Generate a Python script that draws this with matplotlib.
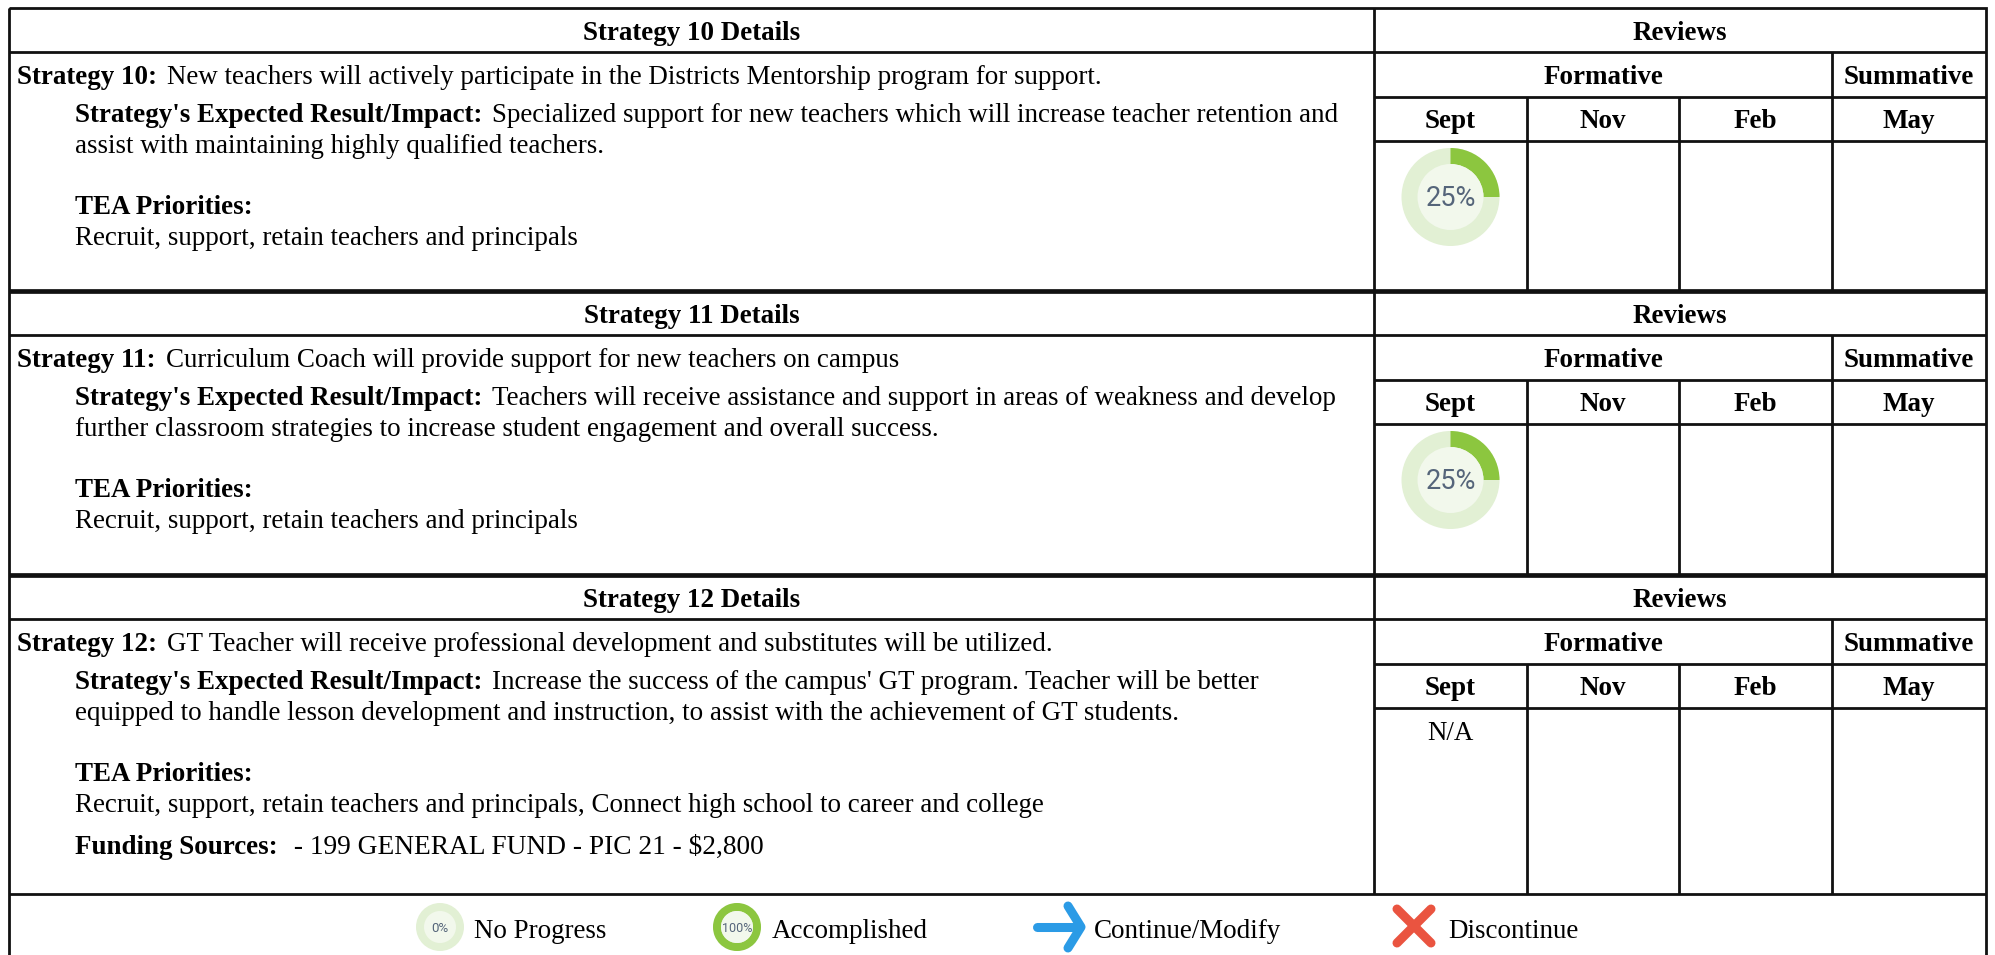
import matplotlib
matplotlib.use('Agg')
import matplotlib.pyplot as plt
from matplotlib.patches import Wedge, Circle, Rectangle

plt.rcParams['font.family'] = ['Liberation Serif', 'DejaVu Serif']

# data
strategy_numbers = [10, 11, 12]
strategy_texts = [
    "New teachers will actively participate in the Districts Mentorship program for support.",
    "Curriculum Coach will provide support for new teachers on campus",
    "GT Teacher will receive professional development and substitutes will be utilized.",
]
impact_line1 = [
    "Specialized support for new teachers which will increase teacher retention and",
    "Teachers will receive assistance and support in areas of weakness and develop",
    "Increase the success of the campus' GT program. Teacher will be better",
]
impact_line2 = [
    "assist with maintaining highly qualified teachers.",
    "further classroom strategies to increase student engagement and overall success.",
    "equipped to handle lesson development and instruction, to assist with the achievement of GT students.",
]
priorities = [
    "Recruit, support, retain teachers and principals",
    "Recruit, support, retain teachers and principals",
    "Recruit, support, retain teachers and principals, Connect high school to career and college",
]
funding = [None, None, "- 199 GENERAL FUND - PIC 21 - $2,800"]
sept_progress = [25, 25, None]
months = ["Sept", "Nov", "Feb", "May"]
legend_labels = ["No Progress", "Accomplished", "Continue/Modify", "Discontinue"]

# layout, in pixels of the picture
W, H = 1995, 955
LEFT, RIGHT = 9, 1986
X_REV, X_NOV, X_FEB, X_MAY = 1374, 1527, 1679, 1832
BLOCK_TOPS = [8, 291, 575]
BLOCK_BOTTOMS = [290, 574, 894]
FS = 19.45
BLACK = '#111111'
RING = '#e2f0d4'
INNER = '#f2f8ec'
GREEN = '#8cc63f'
GREY_TXT = '#55657a'

fig = plt.figure(figsize=(W / 100, H / 100), dpi=100)
ax = fig.add_axes([0, 0, 1, 1])
ax.set_xlim(0, W)
ax.set_ylim(H, 0)
ax.axis('off')


def hline(y, x0=LEFT, x1=RIGHT, lw=2.0):
    ax.plot([x0, x1], [y, y], color=BLACK, lw=lw, solid_capstyle='butt')


def vline(x, y0, y1, lw=2.0):
    ax.plot([x, x], [y0, y1], color=BLACK, lw=lw, solid_capstyle='butt')


def label(x, y, s, bold=False, ha='left', fs=FS):
    return ax.text(x, y, s, fontsize=fs, fontweight='bold' if bold else 'normal',
                   ha=ha, va='baseline', color='black')


def bold_then_regular(x, y, bold_part, regular_part, gap=6, fs=FS):
    t = label(x, y, bold_part, bold=True)
    box = t.get_window_extent(fig.canvas.get_renderer())
    label(box.x1 + gap, y, regular_part, fs=fs)


def ring(cx, cy, r_out, r_in, pct, txt, fs):
    ax.add_patch(Circle((cx, cy), r_out, color=RING, lw=0))
    if pct > 0:
        # y axis is flipped, so the wedge runs from 12 o'clock clockwise on screen
        ax.add_patch(Wedge((cx, cy), r_out, -90, -90 + 3.6 * pct, width=r_out - r_in,
                           color=GREEN, lw=0))
    ax.add_patch(Circle((cx, cy), r_in, color=INNER, lw=0))
    ax.text(cx, cy + 1, txt, fontsize=fs, family='Roboto', color=GREY_TXT,
            ha='center', va='center')


fig.canvas.draw()

for i, top in enumerate(BLOCK_TOPS):
    bottom = BLOCK_BOTTOMS[i]
    r1, r2, r3 = top + 44, top + 89, top + 133

    hline(r1)
    hline(r2, X_REV, RIGHT)
    hline(r3, X_REV, RIGHT)
    vline(X_REV, top, bottom)
    vline(X_MAY, r1, bottom)
    vline(X_NOV, r2, bottom)
    vline(X_FEB, r2, bottom)

    label((LEFT + X_REV) / 2, top + 32, "Strategy %d Details" % strategy_numbers[i], bold=True, ha='center')
    label((X_REV + RIGHT) / 2, top + 32, "Reviews", bold=True, ha='center')
    label((X_REV + X_MAY) / 2, top + 76, "Formative", bold=True, ha='center')
    label((X_MAY + RIGHT) / 2, top + 76, "Summative", bold=True, ha='center')
    for m, (a, b) in zip(months, [(X_REV, X_NOV), (X_NOV, X_FEB), (X_FEB, X_MAY), (X_MAY, RIGHT)]):
        label((a + b) / 2, top + 120, m, bold=True, ha='center')

    bold_then_regular(17, top + 76, "Strategy %d:" % strategy_numbers[i], strategy_texts[i], gap=10)
    bold_then_regular(75, top + 114, "Strategy's Expected Result/Impact:", impact_line1[i], gap=10)
    label(75, top + 145, impact_line2[i])
    label(75, top + 206, "TEA Priorities:", bold=True)
    label(75, top + 237, priorities[i])
    if funding[i]:
        bold_then_regular(75, top + 279, "Funding Sources:", " " + funding[i], gap=9, fs=19.7)

    cx = (X_REV + X_NOV) / 2
    if sept_progress[i] is None:
        label(cx, top + 165, "N/A", ha='center')
    else:
        ring(cx, top + 189, 49, 33, sept_progress[i], "%d%%" % sept_progress[i], 19.5)

# heavy separators and outer frame
hline(291, lw=3.4)
hline(575, lw=3.4)
hline(894)
ax.add_patch(Rectangle((LEFT, 8), RIGHT - LEFT, H + 20, fill=False, ec=BLACK, lw=2.0))

# legend row
ring(440, 927, 24, 16, 0, "0%", 9.5)
ring(737, 927, 24, 16, 100, "100%", 9)
label(474, 938, legend_labels[0])
label(772, 938, legend_labels[1])
label(1094, 938, legend_labels[2])
label(1448, 938, legend_labels[3])

# arrow and cross
ARROW = '#2b9be6'
CROSS = '#ea5440'
ax.plot([1037, 1078], [927, 927], color=ARROW, lw=6.5, solid_capstyle='round')
ax.plot([1068, 1081, 1068], [906, 927, 948], color=ARROW, lw=6.5, solid_capstyle='round',
        solid_joinstyle='round')
ax.plot([1397, 1431], [909, 943], color=CROSS, lw=6.5, solid_capstyle='round')
ax.plot([1431, 1397], [909, 943], color=CROSS, lw=6.5, solid_capstyle='round')

fig.savefig('out.png', dpi=100)
